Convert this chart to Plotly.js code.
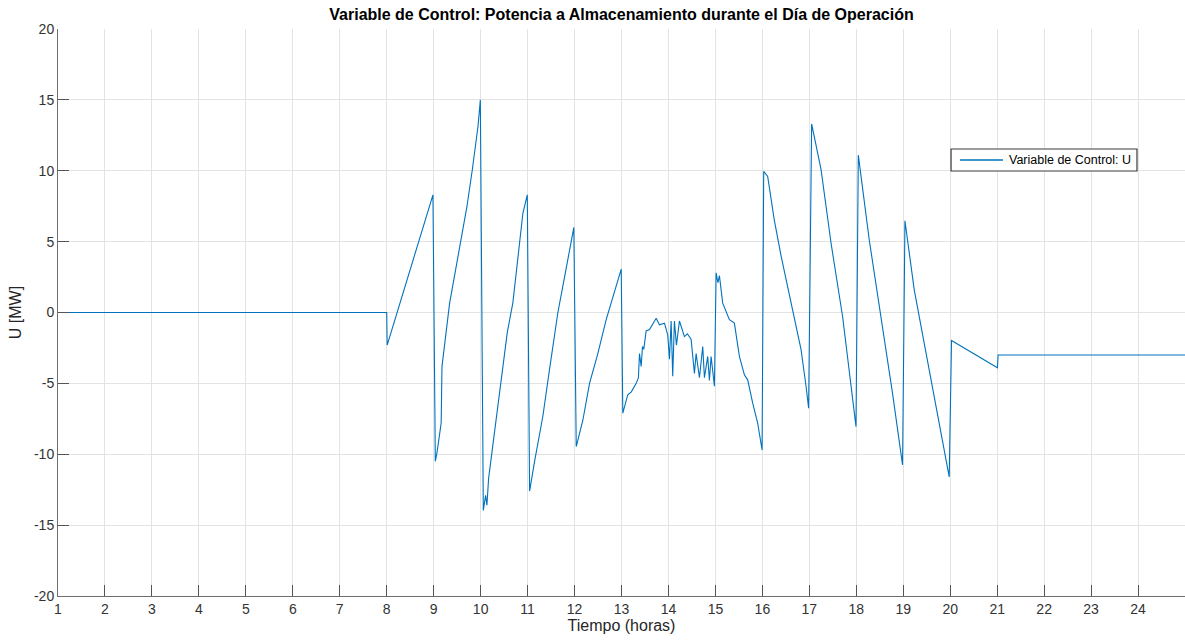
<!DOCTYPE html>
<html>
<head>
<meta charset="utf-8">
<script src="https://cdn.plot.ly/plotly-3.0.1.min.js"></script>
<style>html,body{margin:0;padding:0;background:#fff;overflow:hidden;}</style>
</head>
<body>
<div id="chart" style="width:1185px;height:641px;"></div>
<script>
// Time (hours) and control variable U [MW]
const hours = [
  1, 8.0, 8.01, 8.985, 9.035, 9.07, 9.16, 9.177,
  9.34, 9.517, 9.709, 9.823, 9.943, 9.994,
  10.057, 10.106, 10.134, 10.17, 10.298, 10.419, 10.568, 10.687, 10.772, 10.9, 10.994,
  11.043, 11.149, 11.326, 11.468, 11.645, 11.787, 11.93, 11.985,
  12.036, 12.177, 12.319, 12.496, 12.674, 12.887, 12.994,
  13.028, 13.134, 13.21, 13.313, 13.36, 13.383, 13.419, 13.447, 13.474, 13.525, 13.596, 13.66,
  13.738, 13.809, 13.915, 13.985, 14.021, 14.057, 14.091, 14.127, 14.17, 14.234, 14.34, 14.404,
  14.483, 14.553, 14.589, 14.66, 14.73, 14.766, 14.836, 14.872, 14.908, 14.979,
  15.015, 15.053, 15.085, 15.155, 15.298, 15.404, 15.511, 15.617, 15.687, 15.794, 15.9, 15.994,
  16.028, 16.113, 16.255, 16.398, 16.538, 16.681, 16.823, 16.93, 16.985,
  17.049, 17.142, 17.249, 17.462, 17.709, 17.994,
  18.043, 18.277, 18.772, 18.985,
  19.036, 19.234, 19.979,
  20.028, 21.006, 21.02, 25
];
const uValues = [
  0, 0, -2.3, 8.3, -10.5, -9.9, -7.8, -3.8,
  0.66, 4.07, 7.48, 10.07, 13.1, 15.0,
  -13.97, -12.9, -13.6, -11.7, -8.3, -5.0, -1.4, 0.7, 3.2, 7.0, 8.3,
  -12.6, -10.5, -7.3, -4.0, 0.0, 2.5, 5.25, 6.0,
  -9.46, -7.6, -5.0, -2.9, -0.5, 1.8, 3.06,
  -7.1, -5.8, -5.6, -5.0, -4.6, -2.9, -3.8, -2.4, -2.6, -1.3, -1.2, -0.8,
  -0.4, -0.87, -0.75, -1.6, -3.3, -0.6, -4.5, -0.6, -2.3, -0.6, -1.7, -1.5,
  -1.9, -4.3, -2.9, -4.6, -2.4, -4.6, -3.1, -4.8, -3.1, -5.2,
  2.8, 2.1, 2.6, 0.66, -0.5, -0.75, -3.1, -4.4, -4.75, -6.4, -7.8, -9.7,
  9.95, 9.6, 6.5, 4.0, 1.8, -0.3, -2.6, -5.2, -6.75,
  13.3, 11.7, 10.1, 4.9, -0.3, -8.05,
  11.1, 5.1, -5.7, -10.75,
  6.47, 1.6, -11.6,
  -1.97, -3.9, -3.0, -3.0
];
const xTickVals = [1,2,3,4,5,6,7,8,9,10,11,12,13,14,15,16,17,18,19,20,21,22,23,24];
const yTickVals = [-20,-15,-10,-5,0,5,10,15,20];
const seriesName = 'Variable de Control: U';

const lineColor = '#0072BD';
const FONT = 'Liberation Sans, Arial, Helvetica, sans-serif';

const trace = {
  x: hours, y: uValues, type: 'scatter', mode: 'lines', name: seriesName,
  line: {color: lineColor, width: 1.1}, showlegend: false
};

const axisCommon = {
  showgrid: true, gridcolor: '#e3e3e3', gridwidth: 1,
  zeroline: false, showline: true, linecolor: '#6e6e6e', linewidth: 1,
  ticks: 'inside', ticklen: 11, tickcolor: '#555', tickwidth: 1,
  tickfont: {family: FONT, size: 14, color: '#333'},
  mirror: false
};

// Legend drawn as a framed box (paper coordinates)
const legBox = {x0: 0.7924, x1: 0.9574, y0: 0.7496, y1: 0.7884};
const legMidY = (legBox.y0 + legBox.y1) / 2;

const layout = {
  width: 1185, height: 641,
  margin: {l: 58, r: 0, t: 29, b: 45},
  paper_bgcolor: '#fff', plot_bgcolor: '#fff',
  showlegend: false,
  title: {
    text: '<b>Variable de Control: Potencia a Almacenamiento durante el Día de Operación</b>',
    font: {family: FONT, size: 16, color: '#000'},
    x: 0.5, xref: 'paper', y: 0.978, yanchor: 'middle'
  },
  xaxis: Object.assign({}, axisCommon, {
    range: [1, 25], tickvals: xTickVals, ticktext: xTickVals.map(String),
    title: {text: 'Tiempo (horas)', font: {family: FONT, size: 16, color: '#262626'}, standoff: 3}
  }),
  yaxis: Object.assign({}, axisCommon, {
    range: [-20, 20], tickvals: yTickVals, ticktext: yTickVals.map(String),
    title: {text: 'U [MW]', font: {family: FONT, size: 16, color: '#262626'}, standoff: 8}
  }),
  shapes: [
    {type: 'rect', xref: 'paper', yref: 'paper', x0: legBox.x0, x1: legBox.x1, y0: legBox.y0, y1: legBox.y1,
     line: {color: '#3a3a3a', width: 1.2}, fillcolor: '#fff', layer: 'above'},
    {type: 'line', xref: 'paper', yref: 'paper', x0: 0.8004, x1: 0.8385, y0: legMidY, y1: legMidY,
     line: {color: lineColor, width: 1.3}, layer: 'above'}
  ],
  annotations: [
    {xref: 'paper', yref: 'paper', x: 0.8425, y: legMidY, xanchor: 'left', yanchor: 'middle',
     text: seriesName, showarrow: false, font: {family: FONT, size: 12.5, color: '#000'}}
  ]
};

Plotly.newPlot('chart', [trace], layout, {displayModeBar: false, staticPlot: true});
</script>
</body>
</html>
